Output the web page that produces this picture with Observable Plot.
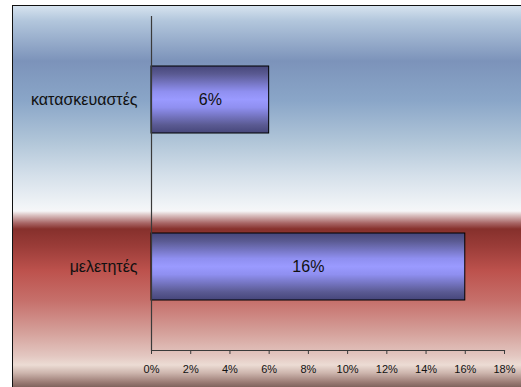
<!DOCTYPE html>
<html>
<head>
<meta charset="utf-8">
<script src="https://cdn.jsdelivr.net/npm/d3@7"></script>
<script src="https://cdn.jsdelivr.net/npm/@observablehq/plot@0.6"></script>
<style>
  html, body { margin: 0; padding: 0; background: #fff; }
  #wrap { position: relative; width: 521px; height: 387px; overflow: hidden; }
  #bg {
    position: absolute; left: 12px; top: 5px; width: 520px; height: 390px;
    border-left: 1.5px solid #111; border-top: 1.5px solid #111;
    box-sizing: border-box;
    background: linear-gradient(to bottom,
      #d6e3ef 0px, #b2c6dc 15px, #7c93ba 55px, #8aa6c8 95px, #b0c5d8 135px,
      #d5e0ea 170px, #f1f4f7 200px, #f6f6f8 205px, #dcc4c4 209px,
      #a86666 217px, #86302c 223px, #9a3c38 240px, #bd524d 265px,
      #c6706b 295px, #d49e98 325px, #e3c7c1 350px, #ecdcd4 359px,
      #cdb5ad 367px, #9c7d76 376px, #7a5e58 382px);
  }
  #chart { position: absolute; left: 0; top: 0; }
</style>
</head>
<body>
<div id="wrap"><div id="bg"></div><div id="chart"></div></div>
<script>
const categories = ["κατασκευαστές", "μελετητές"];
const values = [0.06, 0.16];
const xTicks = [0, 0.02, 0.04, 0.06, 0.08, 0.10, 0.12, 0.14, 0.16, 0.18];

const data = categories.map((c, i) => ({category: c, value: values[i]}));
const pct = d3.format(".0%");

const chart = Plot.plot({
  width: 521,
  height: 387,
  marginLeft: 151,
  marginRight: 17,
  marginTop: 16,
  marginBottom: 37,
  style: {background: "transparent", fontFamily: "'Liberation Sans', Arial, sans-serif", color: "#000"},
  x: {domain: [0, 0.18]},
  y: {domain: categories, paddingInner: 0.6, paddingOuter: 0.3},
  marks: [
    Plot.barX(data, {x: "value", y: "category", fill: "url(#barGrad)", stroke: "#000", strokeWidth: 1}),
    Plot.text(data, {x: d => d.value / 2, y: "category", text: d => pct(d.value), fontSize: 16, fill: "#111"}),
    Plot.ruleX([0], {stroke: "#3a3a3a", strokeWidth: 1.2}),
    Plot.frame({anchor: "bottom", stroke: "#3a3a3a", strokeWidth: 1.2}),
    Plot.axisX({ticks: xTicks, tickFormat: pct, tickSize: 4, tickPadding: 11, fontSize: 11, stroke: "#3a3a3a", color: "#111", label: null}),
    Plot.axisY({tickSize: 0, tickPadding: 14, fontSize: 16, color: "#111", label: null})
  ]
});

const svg = d3.select(chart);
const defs = svg.insert("defs", ":first-child");
const g = defs.append("linearGradient").attr("id", "barGrad").attr("x1", 0).attr("y1", 0).attr("x2", 0).attr("y2", 1);
[[0, "#46467a"], [0.12, "#5a5a92"], [0.38, "#8f8ff0"], [0.5, "#9a9aff"], [0.62, "#8f8ff0"], [0.88, "#5a5a92"], [1, "#46467a"]]
  .forEach(([o, c]) => g.append("stop").attr("offset", o).attr("stop-color", c));

document.getElementById("chart").appendChild(chart);
</script>
</body>
</html>
